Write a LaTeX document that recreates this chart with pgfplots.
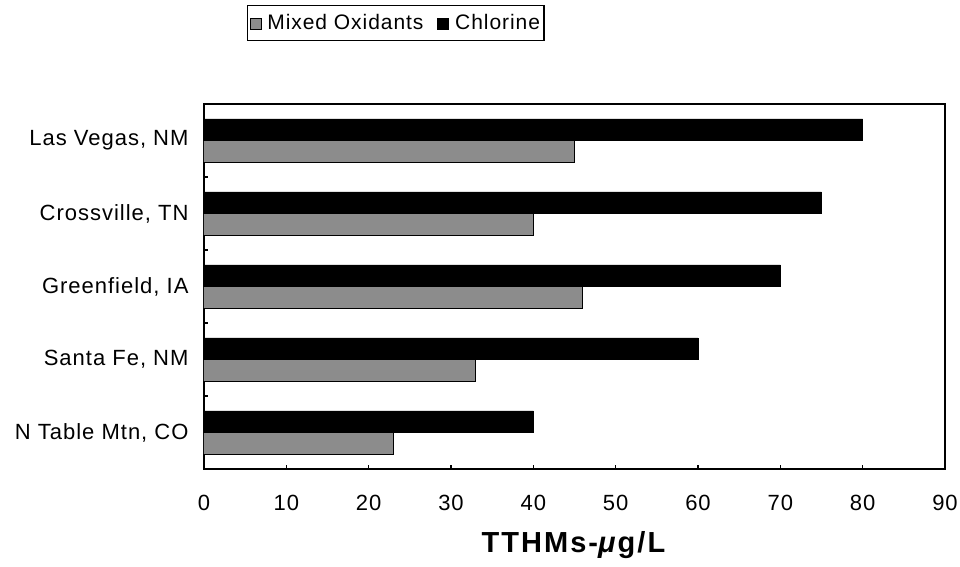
\documentclass[border=0pt]{standalone}
\usepackage{fontspec}
\setmainfont{Liberation Sans}[LetterSpace=4.5]
\usepackage{pgfplots}
\pgfplotsset{compat=1.18}

% values (TTHMs, ug/L), bottom category first
\pgfplotstableread{
y  mixed chlorine
0  23    40
1  33    60
2  46    70
3  40    75
4  45    80
}\tthms

\begin{document}
\begin{tikzpicture}
\path[use as bounding box] (-204pt,-97pt) rectangle (756pt,469pt);
\begin{axis}[
    scale only axis,
    width=741pt, height=365pt,
    at={(0pt,0pt)}, anchor=south west,
    xbar,
    bar width=0.29,
    xmin=0, xmax=90,
    xtick={0,10,...,90},
    ymin=-0.5, ymax=4.5,
    ytick={0,1,2,3,4},
    yticklabels={{N Table Mtn, CO},{Santa Fe, NM},{Greenfield, IA},{Crossville, TN},{Las Vegas, NM}},
    minor ytick={0.5,1.5,2.5,3.5},
    major y tick style={draw=none},
    tick align=inside,
    xtick pos=lower, ytick pos=left,
    major tick length=4pt, minor tick length=4pt,
    every tick/.style={black, line width=1.2pt},
    axis line style={line width=1.5pt},
    /pgf/number format/assume math mode=true,
    tick label style={font=\fontsize{22}{26}\selectfont},
    xticklabel style={anchor=center, yshift=-34pt},
    yticklabel style={xshift=-12pt},
    xlabel={\textbf{TTHMs-\textit{μ}g/L}},
    xlabel style={font=\fontsize{29}{33}\selectfont\addfontfeature{LetterSpace=7}, at={(axis description cs:0.5,-0.208)}, anchor=center},
    legend columns=2,
    legend style={at={(rel axis cs:0.058,1.271)}, anchor=north west,
        draw=black, line width=1.2pt, font=\fontsize{21}{25}\selectfont,
        inner xsep=2pt, inner ysep=7pt,
        /tikz/every odd column/.append style={column sep=4pt},
        /tikz/every even column/.append style={column sep=12pt}},
    legend image code/.code={\draw[#1, line width=0.8pt] (0pt,-6pt) rectangle (11pt,5pt);},
]
\addplot[fill=black!45, draw=black, line width=1pt, bar shift=-0.15] table[x=mixed, y=y] {\tthms};
\addplot[fill=black, draw=black, bar shift=0.15] table[x=chlorine, y=y] {\tthms};
\legend{Mixed Oxidants, Chlorine}
\end{axis}
\end{tikzpicture}
\end{document}
